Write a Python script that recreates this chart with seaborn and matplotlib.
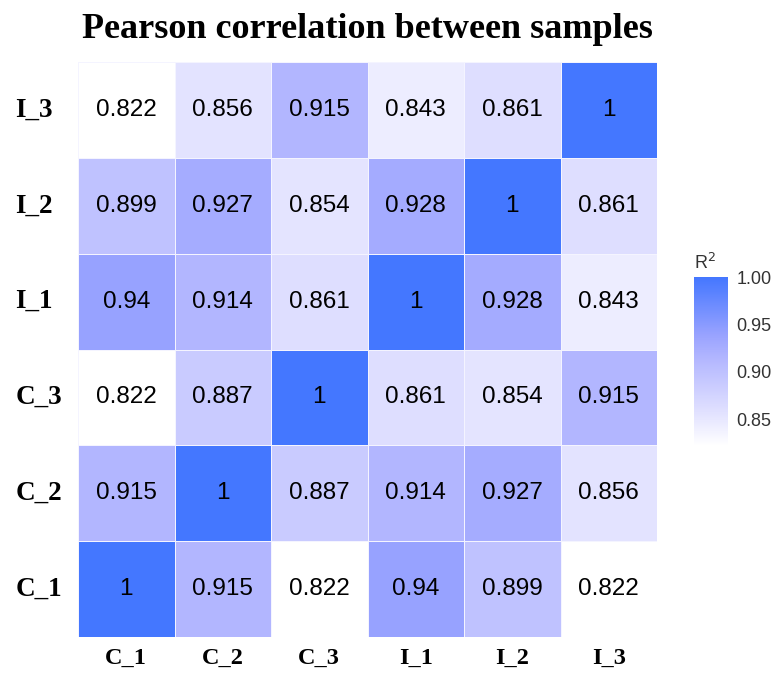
import numpy as np
import pandas as pd
import seaborn as sns
import matplotlib.pyplot as plt
from matplotlib.colors import LinearSegmentedColormap

# --- data ---
samples = ['C_1', 'C_2', 'C_3', 'I_1', 'I_2', 'I_3']
r_c1 = [1, 0.915, 0.822, 0.94, 0.899, 0.822]
r_c2 = [0.915, 1, 0.887, 0.914, 0.927, 0.856]
r_c3 = [0.822, 0.887, 1, 0.861, 0.854, 0.915]
r_i1 = [0.94, 0.914, 0.861, 1, 0.928, 0.843]
r_i2 = [0.899, 0.927, 0.854, 0.928, 1, 0.861]
r_i3 = [0.822, 0.856, 0.915, 0.843, 0.861, 1]
cbar_ticks = [0.85, 0.90, 0.95, 1.00]

corr = pd.DataFrame([r_c1, r_c2, r_c3, r_i1, r_i2, r_i3], index=samples, columns=samples)

sns.set_style('white')
plt.rcParams['font.family'] = ['Liberation Sans', 'DejaVu Sans']

# white -> lavender -> blue, like the ggplot gradient in the original
cmap = LinearSegmentedColormap.from_list('wb', [
    (0.0, '#FFFFFF'), (0.22, '#DEDEFF'), (0.52, '#B2B6FF'),
    (0.66, '#98A2FF'), (1.0, '#4477FF')])

fig = plt.figure(figsize=(7.76, 6.77), dpi=100)
ax = fig.add_axes([78 / 776, 1 - 637 / 677, 579 / 776, 575 / 677])
cax = fig.add_axes([694 / 776, 1 - 446 / 677, 34 / 776, 169 / 677])

sns.heatmap(corr, ax=ax, cbar_ax=cax, cmap=cmap, vmin=corr.values.min(), vmax=1,
            annot=True, fmt='.3g', annot_kws={'size': 17.5, 'color': 'black'},
            linewidths=0.6, linecolor='#F4F4FF', square=False)
ax.invert_yaxis()

ax.set_xlabel('')
ax.set_ylabel('')
ax.tick_params(axis='both', length=0, pad=8, labelcolor='black')
ax.set_xticklabels(samples, rotation=0, fontsize=17.5, fontweight='bold', family='Liberation Serif')
ax.set_yticklabels(samples, rotation=0, fontsize=19.5, fontweight='bold', family='Liberation Serif')
for lab in ax.get_yticklabels():
    lab.set_horizontalalignment('left')
ax.tick_params(axis='y', pad=45)

ax.set_title('Pearson correlation between samples', fontsize=26, fontweight='bold',
             family='Liberation Serif', color='black', pad=17)

cax.set_yticks(cbar_ticks)
cax.set_yticklabels([f'{t:.2f}' for t in cbar_ticks], fontsize=13)
cax.tick_params(axis='y', direction='in', color='white', length=6, width=0.8,
                left=True, right=True, pad=6, labelcolor='#333333')
for s in cax.spines.values():
    s.set_visible(False)
cax.set_title('R$^2$', fontsize=13, loc='left', pad=6, color='#333333')

plt.savefig('out.png', dpi=100)
